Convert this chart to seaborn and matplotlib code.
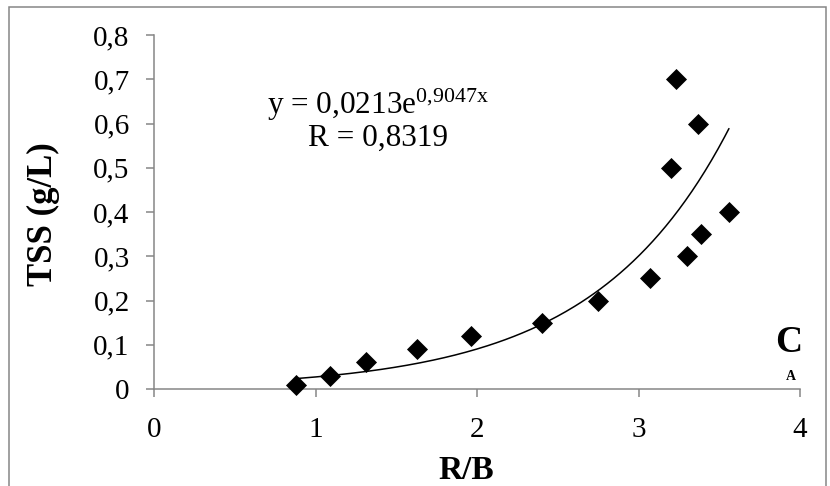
import numpy as np
import pandas as pd
import matplotlib
matplotlib.use("Agg")
import matplotlib.pyplot as plt
import seaborn as sns
from matplotlib.patches import Rectangle

# ---- data ----
rb = [0.88, 1.09, 1.31, 1.63, 1.96, 2.40, 2.75, 3.07, 3.20, 3.23, 3.30, 3.39, 3.37, 3.56]
tss = [0.01, 0.03, 0.06, 0.09, 0.12, 0.15, 0.20, 0.25, 0.50, 0.70, 0.30, 0.35, 0.60, 0.40]
x_ticks = [0, 1, 2, 3, 4]
x_tick_labels = ["0", "1", "2", "3", "4"]
y_ticks = [0, 0.1, 0.2, 0.3, 0.4, 0.5, 0.6, 0.7, 0.8]
y_tick_labels = ["0", "0,1", "0,2", "0,3", "0,4", "0,5", "0,6", "0,7", "0,8"]
x_label = "R/B"
y_label = "TSS (g/L)"
eq_line1 = "y = 0,0213e$^{0{,}9047x}$"
eq_line2 = "R = 0,8319"
panel_big = "C"
panel_small = "A"

df = pd.DataFrame({"R/B": rb, "TSS": tss})

# exponential trendline fitted to the data (Excel-style: linear fit of ln y)
b, ln_a = np.polyfit(df["R/B"], np.log(df["TSS"]), 1)
xs = np.linspace(df["R/B"].min(), df["R/B"].max(), 200)
trend = pd.DataFrame({"x": xs, "y": np.exp(ln_a) * np.exp(b * xs)})

sns.set_theme(style="white")
plt.rcParams["font.family"] = ["Liberation Serif", "DejaVu Serif"]
plt.rcParams["mathtext.fontset"] = "custom"
plt.rcParams["mathtext.rm"] = "Liberation Serif"
plt.rcParams["mathtext.it"] = "Liberation Serif:italic"
plt.rcParams["mathtext.default"] = "regular"

W, H = 830, 486
fig = plt.figure(figsize=(W / 100, H / 100), dpi=100)
fig.patch.set_facecolor("white")
ax = fig.add_axes([154 / W, 1 - 389 / H, (800 - 154) / W, (389 - 35) / H])
ax.set_facecolor("white")

gray = "#868686"

sns.lineplot(data=trend, x="x", y="y", ax=ax, color="black", linewidth=1.1,
             legend=False, zorder=2)
sns.scatterplot(data=df, x="R/B", y="TSS", ax=ax, marker="D", s=115,
                color="black", edgecolor="black", linewidth=0, zorder=3,
                clip_on=False, legend=False)

ax.set_xlim(0, 4)
ax.set_ylim(0, 0.8)
ax.set_xticks(x_ticks)
ax.set_xticklabels(x_tick_labels)
ax.set_yticks(y_ticks)
ax.set_yticklabels(y_tick_labels)

for s in ["top", "right"]:
    ax.spines[s].set_visible(False)
for s in ["left", "bottom"]:
    ax.spines[s].set_color(gray)
    ax.spines[s].set_linewidth(1.1)

ax.tick_params(axis="both", which="major", direction="out", length=5.5,
               width=1.1, color=gray, labelsize=21, labelcolor="black",
               bottom=True, left=True, top=False, right=False)
ax.tick_params(axis="y", pad=12)
ax.tick_params(axis="x", pad=15)

ax.set_xlabel(x_label, fontsize=24, fontweight="bold", color="black")
ax.set_ylabel(y_label, fontsize=25, fontweight="bold", color="black")
ax.xaxis.label.set_va("baseline")
ax.yaxis.label.set_va("center")
ax.xaxis.set_label_coords((466 - 154) / 646, (389 - 479) / 354)
ax.yaxis.set_label_coords((43 - 154) / 646, (389 - 214) / 354)

ax.text((378 - 154) / 646, (389 - 114) / 354, eq_line1, transform=ax.transAxes,
        ha="center", va="baseline", fontsize=22.5, color="black")
ax.text((378 - 154) / 646, (389 - 146) / 354, eq_line2, transform=ax.transAxes,
        ha="center", va="baseline", fontsize=22.5, color="black")

ax.text((789 - 154) / 646, (389 - 352) / 354, panel_big, transform=ax.transAxes,
        ha="center", va="baseline", fontsize=27, fontweight="bold", color="black")
ax.text((791 - 154) / 646, (389 - 380) / 354, panel_small, transform=ax.transAxes,
        ha="center", va="baseline", fontsize=10, fontweight="bold", color="black")

# outer chart border
fig.patches.append(Rectangle((9 / W, -0.02), (826 - 9) / W, 1 - 7 / H + 0.02,
                             transform=fig.transFigure, fill=False,
                             edgecolor=gray, linewidth=1.1, zorder=0))

fig.savefig("out.png", dpi=100)
